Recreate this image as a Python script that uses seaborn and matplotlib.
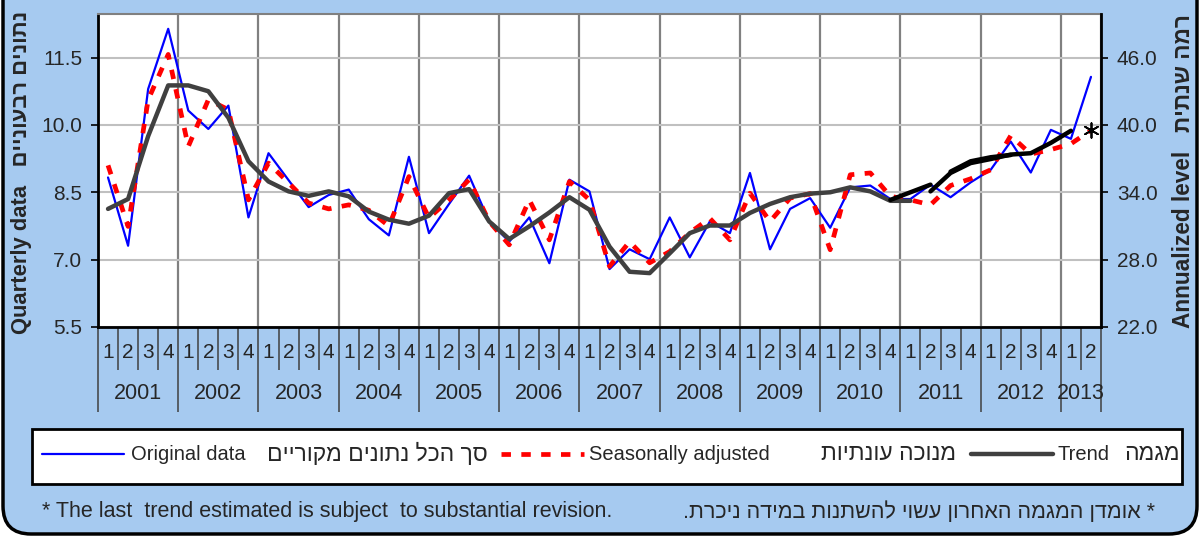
import numpy as np
import pandas as pd
import matplotlib
matplotlib.use("Agg")
import matplotlib.pyplot as plt
import seaborn as sns
from matplotlib.lines import Line2D
from matplotlib.patches import FancyBboxPatch, Rectangle
from matplotlib.transforms import IdentityTransform

# quarterly series, 2001Q1 .. 2013Q2
years = list(range(2001, 2014))
quarters = ["1", "2", "3", "4"] * 12 + ["1", "2"]

original = [
    8.83, 7.31, 10.80, 12.14,
    10.32, 9.91, 10.43, 7.94,
    9.37, 8.77, 8.17, 8.44,
    8.56, 7.90, 7.54, 9.29,
    7.59, 8.24, 8.87, 7.85,
    7.40, 7.94, 6.92, 8.78,
    8.52, 6.79, 7.23, 7.01,
    7.94, 7.05, 7.85, 7.59,
    8.93, 7.23, 8.13, 8.37,
    7.71, 8.61, 8.65, 8.35,
    8.35, 8.67, 8.39, 8.72,
    9.00, 9.63, 8.94, 9.89,
    9.69, 11.07,
]

seasonal = [
    9.10, 7.74, 10.56, 11.57,
    9.52, 10.56, 10.34, 8.33,
    9.15, 8.71, 8.26, 8.13,
    8.22, 8.10, 7.75, 8.85,
    7.93, 8.33, 8.78, 7.85,
    7.33, 8.33, 7.44, 8.74,
    8.33, 6.85, 7.40, 6.93,
    7.18, 7.60, 7.92, 7.44,
    8.48, 7.85, 8.37, 8.47,
    7.22, 8.89, 8.93, 8.41,
    8.33, 8.22, 8.65, 8.80,
    9.00, 9.76, 9.35, 9.45,
    9.58, 9.88,
]

# trend up to 2011Q1
trend = [
    8.13, 8.35, 9.75, 10.88,
    10.88, 10.75, 10.16, 9.19,
    8.74, 8.52, 8.42, 8.52,
    8.41, 8.07, 7.89, 7.80,
    7.98, 8.48, 8.57, 7.85,
    7.46, 7.74, 8.05, 8.39,
    8.11, 7.29, 6.73, 6.70,
    7.14, 7.59, 7.76, 7.76,
    8.04, 8.24, 8.39, 8.47,
    8.50, 8.61, 8.52, 8.31,
    8.31,
]

# latest trend estimates (black segments)
rev1_start, rev1 = 39, [8.33, 8.50, 8.67]
rev2_start, rev2 = 41, [8.52, 8.93, 9.15, 9.24, 9.34, 9.37, 9.60, 9.87]
rev3_start, rev3 = 42, [8.96, 9.19, 9.28, 9.33]
last_pos, last_val = 49, 9.89

# visual-order hebrew (matplotlib has no bidi)
def heb(s):
    return s[::-1]

left_label = "Quarterly data   " + heb("נתונים רבעוניים")
right_label = "Annualized level   " + heb("רמה שנתית")
leg_en = ["Original data", "Seasonally adjusted", "Trend"]
leg_he = [heb("סך הכל נתונים מקוריים"), heb("מנוכה עונתיות"), heb("מגמה")]
note_en = "* The last  trend estimated is subject  to substantial revision."
note_he = heb("* אומדן המגמה האחרון עשוי להשתנות במידה ניכרת.")

df = pd.DataFrame({"pos": np.arange(len(original)), "original": original, "seasonal": seasonal})
df_trend = pd.DataFrame({"pos": np.arange(len(trend)), "trend": trend})

sns.set_style("white")
plt.rcParams["font.family"] = ["Liberation Sans", "DejaVu Sans"]

W, H = 1200, 537
bg = "#A6CAF0"
fig = plt.figure(figsize=(12, 5.37), dpi=100, facecolor="white")

# rounded background panel
fig.patches.append(FancyBboxPatch((3, 3), W - 6, H + 60, boxstyle="round,pad=0,rounding_size=28",
                                  transform=IdentityTransform(), facecolor=bg, edgecolor="black",
                                  linewidth=2.5, zorder=-10))

ax = fig.add_axes([98 / W, 1 - 327 / H, (1101 - 98) / W, (327 - 14) / H])
ax.set_facecolor("white")

sns.lineplot(data=df, x="pos", y="original", ax=ax, color="#0000FF", lw=1.6, zorder=3)
sns.lineplot(data=df, x="pos", y="seasonal", ax=ax, color="#FF0000", lw=3.4,
             linestyle=(0, (2, 2.2)), zorder=4)
sns.lineplot(data=df_trend, x="pos", y="trend", ax=ax, color="#404040", lw=3.2, zorder=5)
for start, vals in [(rev1_start, rev1), (rev2_start, rev2), (rev3_start, rev3)]:
    sns.lineplot(x=np.arange(start, start + len(vals)), y=vals, ax=ax, color="black", lw=3.2, zorder=6)
sns.scatterplot(x=[last_pos], y=[last_val], ax=ax, marker=(6, 2, 0), s=110, color="black",
                linewidth=1.3, zorder=7, clip_on=False)

ymin, ymax = 5.5, 12.47
n = len(original)
ax.set_xlim(-0.5, n - 0.5)
ax.set_ylim(ymin, ymax)
ax.set_xlabel("")
ax.set_ylabel("")

# y axis
lt = [5.5, 7.0, 8.5, 10.0, 11.5]
ax.set_yticks(lt)
ax.set_yticklabels([f"{v:.1f}" for v in lt], fontsize=15)
ax.tick_params(axis="y", direction="out", length=5, width=1.2, color="black", pad=6.5, left=True)
ax.grid(axis="y", color="#C0C0C0", lw=1.5)

# x axis: quarter / year separators
year_bounds = [-0.5] + [4 * k + 3.5 for k in range(12)] + [n - 0.5]
ax.set_xticks(year_bounds)
ax.set_xticks(np.arange(-0.5, n), minor=True)
ax.set_xticklabels([])
ax.tick_params(axis="x", which="major", direction="out", length=61, width=1.1, color="#404040", bottom=True)
ax.tick_params(axis="x", which="minor", direction="out", length=31, width=1.1, color="#404040", bottom=True)
ax.grid(axis="x", which="major", color="#808080", lw=1.6)

tr = ax.get_xaxis_transform()
for i, q in enumerate(quarters):
    ax.text(i, -0.083, q, transform=tr, ha="center", va="center", fontsize=15)
for k, yr in enumerate(years):
    xc = 4 * k + 1.5 if yr < 2013 else 48.5
    ax.text(xc, -0.213, str(yr), transform=tr, ha="center", va="center", fontsize=15.5)

for side in ["left", "bottom"]:
    ax.spines[side].set_color("black")
    ax.spines[side].set_linewidth(2)
ax.spines["top"].set_color("#808080")
ax.spines["top"].set_linewidth(1.5)
ax.spines["right"].set_visible(False)

# right axis (annualized = 4 x quarterly)
ax2 = ax.twinx()
ax2.set_ylim(4 * ymin, 4 * ymax)
rt = [22, 28, 34, 40, 46]
ax2.set_yticks(rt)
ax2.set_yticklabels([f"{v:.1f}" for v in rt], fontsize=15)
ax2.tick_params(axis="y", direction="out", length=5, width=1.2, color="black", pad=6.5, right=True)
ax2.spines["right"].set_color("black")
ax2.spines["right"].set_linewidth(2)
for side in ["left", "top", "bottom"]:
    ax2.spines[side].set_visible(False)

fig.text(22 / W, 1 - 172 / H, left_label, rotation=90, ha="center", va="center",
         fontsize=15.8, fontweight="bold")
fig.text(1183 / W, 1 - 171 / H, right_label, rotation=90, ha="center", va="center",
         fontsize=16.3, fontweight="bold")

# legend box
fig.patches.append(Rectangle((32 / W, 1 - 484 / H), 1150 / W, 55 / H, transform=fig.transFigure,
                             facecolor="white", edgecolor="black", linewidth=2))
ly = 1 - 454 / H
fs_leg = 14.5
fs_heb = 16.5
fig.lines.append(Line2D([42 / W, 124 / W], [ly, ly], transform=fig.transFigure, color="#0000FF", lw=1.6))
fig.text(131 / W, ly, leg_en[0], ha="left", va="center", fontsize=fs_leg)
fig.text(488 / W, ly, leg_he[0], ha="right", va="center", fontsize=fs_heb)
fig.lines.append(Line2D([501 / W, 584 / W], [ly, ly], transform=fig.transFigure, color="#FF0000",
                        lw=3.4, linestyle=(0, (2, 2.2))))
fig.text(589 / W, ly, leg_en[1], ha="left", va="center", fontsize=fs_leg)
fig.text(956 / W, ly, leg_he[1], ha="right", va="center", fontsize=fs_heb)
fig.lines.append(Line2D([971 / W, 1053 / W], [ly, ly], transform=fig.transFigure, color="#404040", lw=3.2))
fig.text(1058 / W, ly, leg_en[2], ha="left", va="center", fontsize=fs_leg)
fig.text(1180 / W, ly, leg_he[2], ha="right", va="center", fontsize=fs_heb)

# footnotes
fig.text(42 / W, 1 - 512 / H, note_en, ha="left", va="center", fontsize=15.5)
fig.text(1155 / W, 1 - 512 / H, note_he, ha="right", va="center", fontsize=15.5)

fig.savefig("out.png", dpi=100, facecolor=fig.get_facecolor())
